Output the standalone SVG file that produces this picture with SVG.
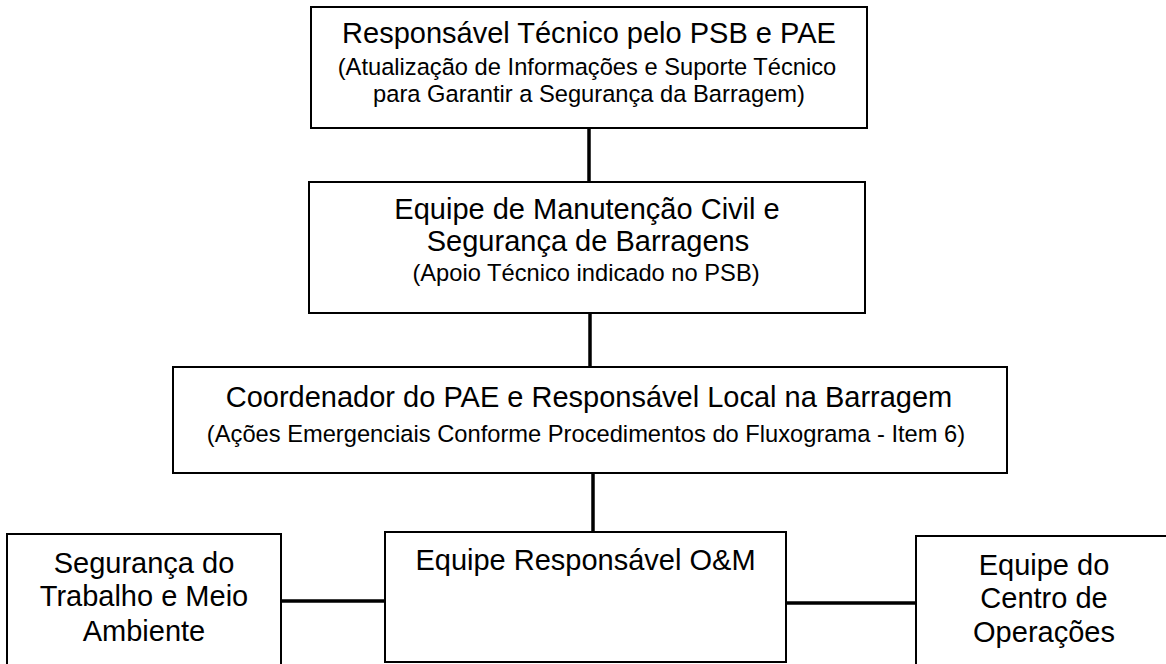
<svg xmlns="http://www.w3.org/2000/svg" width="1166" height="664" viewBox="0 0 1166 664">
<style>
.box{fill:#fff;stroke:#000;stroke-width:2}
.conn{stroke:#000;stroke-width:3.5;fill:none}
.t{font-family:"Liberation Sans",Arial,sans-serif;font-size:29px;fill:#000;text-anchor:middle}
.s{font-family:"Liberation Sans",Arial,sans-serif;font-size:23.7px;fill:#000;text-anchor:middle}
</style>
<rect width="1166" height="664" fill="#fff"/>
<g id="connectors">
<line class="conn" x1="589" y1="128" x2="589" y2="182"/>
<line class="conn" x1="590" y1="313" x2="590" y2="367"/>
<line class="conn" x1="593" y1="473" x2="593" y2="532"/>
<line class="conn" x1="281" y1="601" x2="385" y2="601"/>
<line class="conn" x1="786" y1="603" x2="916" y2="603"/>
</g>
<g id="node-responsavel-tecnico">
<rect class="box" x="311" y="7" width="556" height="121"/>
<text class="t" x="589" y="43">Responsável Técnico pelo PSB e PAE</text>
<text class="s" x="587" y="75">(Atualização de Informações e Suporte Técnico</text>
<text class="s" x="589" y="102">para Garantir a Segurança da Barragem)</text>
</g>
<g id="node-manutencao">
<rect class="box" x="309" y="182" width="556" height="131"/>
<text class="t" x="587" y="219">Equipe de Manutenção Civil e</text>
<text class="t" x="588" y="251">Segurança de Barragens</text>
<text class="s" x="586" y="281">(Apoio Técnico indicado no PSB)</text>
</g>
<g id="node-coordenador">
<rect class="box" x="173" y="367" width="834" height="106"/>
<text class="t" x="589" y="407">Coordenador do PAE e Responsável Local na Barragem</text>
<text class="s" x="586" y="442">(Ações Emergenciais Conforme Procedimentos do Fluxograma - Item 6)</text>
</g>
<g id="node-om">
<rect class="box" x="385" y="532" width="401" height="130"/>
<text class="t" x="585.5" y="570">Equipe Responsável O&amp;M</text>
</g>
<g id="node-seguranca-trabalho">
<rect class="box" x="7" y="534" width="274" height="140"/>
<text class="t" x="144" y="573">Segurança do</text>
<text class="t" x="144" y="606">Trabalho e Meio</text>
<text class="t" x="144" y="641">Ambiente</text>
</g>
<g id="node-centro-operacoes">
<rect class="box" x="916" y="536" width="270" height="140"/>
<text class="t" x="1044" y="575">Equipe do</text>
<text class="t" x="1044" y="608">Centro de</text>
<text class="t" x="1044" y="642">Operações</text>
</g>
</svg>
